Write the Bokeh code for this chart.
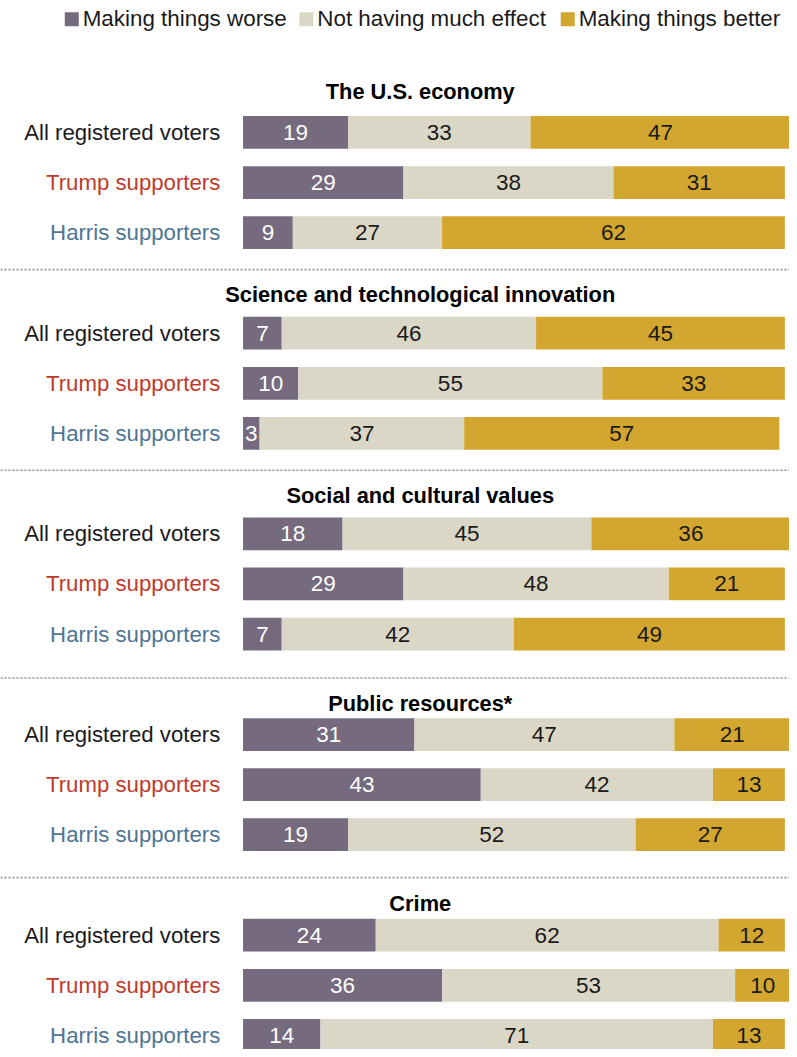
from bokeh.plotting import figure
from bokeh.models import Range1d, ColumnDataSource, Span
from bokeh.core.properties import value
from bokeh.embed import file_html
from bokeh.resources import INLINE

# ---------------- data ----------------
topics = ["The U.S. economy", "Science and technological innovation",
          "Social and cultural values", "Public resources*", "Crime"]
groups = ["All registered voters", "Trump supporters", "Harris supporters"]
series = ["Making things worse", "Not having much effect", "Making things better"]

worse = [[19, 29, 9], [7, 10, 3], [18, 29, 7], [31, 43, 19], [24, 36, 14]]
no_effect = [[33, 38, 27], [46, 55, 37], [45, 48, 42], [47, 42, 52], [62, 53, 71]]
better = [[47, 31, 62], [45, 33, 57], [36, 21, 49], [21, 13, 27], [12, 10, 13]]

# ---------------- style / layout ----------------
FONT = "Liberation Sans"
series_colors = ["#756a7e", "#dad7c7", "#d3a630"]
series_text = ["#ffffff", "#1a1a1a", "#1a1a1a"]
group_colors = ["#1a1a1a", "#bf3a2b", "#4e7593"]

W, H = 789, 1049
REF_W, REF_H = 797, 1057
PX_PER_PCT = 5.585
ZERO_PX = 245.0
FIRST_ROW = 133.0
GROUP_STEP = 202.2
ROW_STEP = 50.5
BAR_H = 33
TITLE_GAP = [41, 39, 39, 31, 32]
RULE_GAP = [0, 64, 64, 57, 58]


def px_x(px):
    return (px - ZERO_PX) / PX_PER_PCT


p = figure(width=W, height=H, output_backend="svg", toolbar_location=None,
           x_range=Range1d(px_x(0), px_x(REF_W)), y_range=Range1d(REF_H, 0),
           min_border=0)
p.axis.visible = False
p.grid.visible = False
p.outline_line_color = None
p.background_fill_color = "white"
p.border_fill_color = "white"

bars = dict(y=[], left=[], right=[], color=[], cx=[], label=[], tc=[])
rows = dict(y=[], text=[], color=[])
titles = dict(y=[], text=[])
for g, topic in enumerate(topics):
    y0 = FIRST_ROW + g * GROUP_STEP
    titles["y"].append(y0 - TITLE_GAP[g])
    titles["text"].append(topic)
    if g > 0:
        p.add_layout(Span(location=y0 - RULE_GAP[g], dimension="width", line_color="#8f8f8f",
                          line_width=1.6, line_dash="2 2"))
    for k, grp in enumerate(groups):
        y = y0 + k * ROW_STEP
        rows["y"].append(y)
        rows["text"].append(grp)
        rows["color"].append(group_colors[k])
        vals = [worse[g][k], no_effect[g][k], better[g][k]]
        left = 0
        for s, v in enumerate(vals):
            bars["y"].append(y)
            bars["left"].append(left)
            bars["right"].append(left + v)
            bars["color"].append(series_colors[s])
            bars["cx"].append(left + v / 2)
            bars["label"].append(str(v))
            bars["tc"].append(series_text[s])
            left += v

src = ColumnDataSource(bars)
p.hbar(y="y", left="left", right="right", height=BAR_H, fill_color="color",
       line_color=None, source=src)
p.text(x="cx", y="y", text="label", text_color="tc", text_align="center",
       text_baseline="middle", text_font=value(FONT), text_font_size="22.5px", source=src)

p.text(x=px_x(222), y="y", text="text", text_color="color", text_align="right",
       text_baseline="middle", text_font=value(FONT), text_font_size="22.2px",
       source=ColumnDataSource(rows))

p.text(x=px_x(424), y="y", text="text", text_color="#000000", text_align="center",
       text_baseline="middle", text_font=value(FONT), text_font_size="21.8px",
       text_font_style="bold", source=ColumnDataSource(titles))

# legend
leg_sq = [72, 309, 573]
leg = dict(x=[px_x(v) for v in leg_sq], tx=[px_x(v + 11) for v in leg_sq],
           color=series_colors, text=series)
lsrc = ColumnDataSource(leg)
p.rect(x="x", y=19, width=14, height=14, width_units="screen", height_units="screen",
       fill_color="color", line_color=None, source=lsrc)
p.text(x="tx", y=18, text="text", text_color="#1a1a1a", text_align="left",
       text_baseline="middle", text_font=value(FONT), text_font_size="22.4px", source=lsrc)

open("out.html", "w").write(file_html(p, INLINE))
